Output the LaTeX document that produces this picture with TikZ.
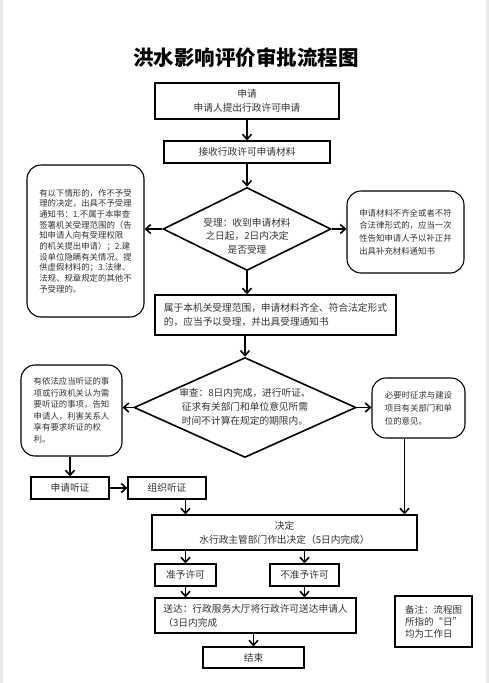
\documentclass[tikz,border=0pt]{standalone}
\usepackage{fontspec}
\setmainfont{Noto Sans CJK SC}
\usetikzlibrary{arrows.meta,shapes.geometric}

\tikzset{
	box/.style={draw, line width=1.1pt, inner sep=0pt, align=center, text=black!80, font=\fontsize{9.7}{14}\selectfont},
	rbox/.style={box, rounded corners=14pt, align=left},
	dia/.style={draw, diamond, line width=1.6pt, inner sep=0pt},
	flow/.style={->, line width=1.6pt},
	small/.style={font=\fontsize{8.4}{#1}\selectfont},
}

\begin{document}
\begin{tikzpicture}[x=1pt, y=-1pt, >={Straight Barb[length=5pt,width=9pt]}]
	\useasboundingbox (0,0) rectangle (489,683);
	%Rand
	\fill[gray!18] (0,0) rectangle (3,683);
	\fill[gray!18] (486,0) rectangle (489,683);
	%Titel
	\node (titel) at (246,58) {\fontsize{20.5}{24}\selectfont\bfseries 洪水影响评价审批流程图};
	%Antrag
	\node [box, line width=1.6pt, minimum width=184, minimum height=36] (shenqing) at (247,101) {申请\\申请人提出行政许可申请};
	\node [box, minimum width=166, minimum height=22] (jieshou) at (247,152) {接收行政许可申请材料};
	%Annahme
	\node [dia, minimum width=168, minimum height=83] (shouli) at (247,229) {};
	\node [align=center, text=black!80, font=\fontsize{9.7}{13.5}\selectfont] (shoulitext) at (247,236) {受理：收到申请材料\\之日起，2日内决定\\是否受理};
	\node [rbox, small=10.7, minimum width=117, minimum height=152] (buyu) at (85.5,241) {有以下情形的，作不予受\\理的决定，出具不予受理\\通知书：1.不属于本审查\\签署机关受理范围的（告\\知申请人向有受理权限\\的机关提出申请）；2.建\\设单位隐瞒有关情况、提\\供虚假材料的；3.法律、\\法规、规章规定的其他不\\予受理的。};
	\node [rbox, small=12.7, minimum width=117, minimum height=82] (buzheng) at (405.5,232) {申请材料不齐全或者不符\\合法律形式的，应当一次\\性告知申请人予以补正并\\出具补充材料通知书};
	\node [box, align=left, line width=1.4pt, minimum width=241, minimum height=40] (shouliok) at (275.5,315) {属于本机关受理范围，申请材料齐全、符合法定形式\\的，应当予以受理，并出具受理通知书};
	%Pruefung
	\node [dia, minimum width=222, minimum height=100] (shencha) at (245,407.5) {};
	\node [align=center, text=black!80, font=\fontsize{9.7}{14}\selectfont] (shenchatext) at (245,407) {审查：8日内完成，进行听证、\\征求有关部门和单位意见所需\\时间不计算在规定的期限内。};
	\node [rbox, small=11.5, minimum width=101, minimum height=91] (tingzheng) at (71.5,410.5) {有依法应当听证的事\\项或行政机关认为需\\要听证的事项，告知\\申请人，利害关系人\\享有要求听证的权\\利。};
	\node [rbox, small=13, minimum width=93, minimum height=60] (zhengqiu) at (418.5,408) {必要时征求与建设\\项目有关部门和单\\位的意见。};
	%Anhoerung
	\node [box, minimum width=78, minimum height=22] (sqtz) at (70,488) {申请听证};
	\node [box, minimum width=78, minimum height=22] (zztz) at (167,488) {组织听证};
	%Entscheidung
	\node [box, minimum width=265, minimum height=35] (jueding) at (284.5,532.5) {决定\\水行政主管部门作出决定（5日内完成）};
	\node [box, minimum width=61, minimum height=22] (zhunyu) at (185.5,575) {准予许可};
	\node [box, minimum width=69, minimum height=22] (buzhun) at (304.5,575) {不准予许可};
	\node [box, align=left, minimum width=201, minimum height=35] (songda) at (255.5,615.5) {送达：行政服务大厅将行政许可送达申请人\\（3日内完成};
	\node [box, minimum width=101, minimum height=21] (jieshu) at (253.5,657.5) {结束};
	%Bemerkung
	\node [box, align=left, font=\fontsize{9.5}{12}\selectfont, minimum width=77, minimum height=51] (beizhu) at (433.5,621.5) {备注：流程图\\所指的“日”\\均为工作日};
	%Verbindungen
	\draw [flow] (shenqing) -- (jieshou);
	\draw [flow] (jieshou.south) -- (shouli.north);
	\draw [flow] (shouli.west) -- (shouli.west -| buyu.east);
	\draw [flow] (shouli.east) -- (shouli.east -| buzheng.west);
	\draw [flow] (shouli.south) -- (shouli.south |- shouliok.north);
	\draw [flow] (shouliok.south -| shencha.north) -- (shencha.north);
	\draw [flow] (shencha.west) -- (shencha.west -| tingzheng.east);
	\draw [flow] (shencha.east) -- (shencha.east -| zhengqiu.west);
	\draw [flow] (tingzheng.south -| sqtz.north) -- (sqtz.north);
	\draw [flow] (sqtz) -- (zztz);
	\draw [flow] (zztz.south -| zhunyu.north) -- (jueding.north -| zhunyu.north);
	\draw [flow] ([xshift=-14pt]zhengqiu.south) -- ([xshift=-14pt]zhengqiu.south |- jueding.north);
	\draw [flow] (jueding.south -| zhunyu.north) -- (zhunyu.north);
	\draw [flow] (jueding.south -| buzhun.north) -- (buzhun.north);
	\draw [flow] (zhunyu.south) -- (zhunyu.south |- songda.north);
	\draw [flow] (buzhun.south) -- (buzhun.south |- songda.north);
	\draw [flow] (songda.south -| jieshu.north) -- (jieshu.north);
\end{tikzpicture}
\end{document}
